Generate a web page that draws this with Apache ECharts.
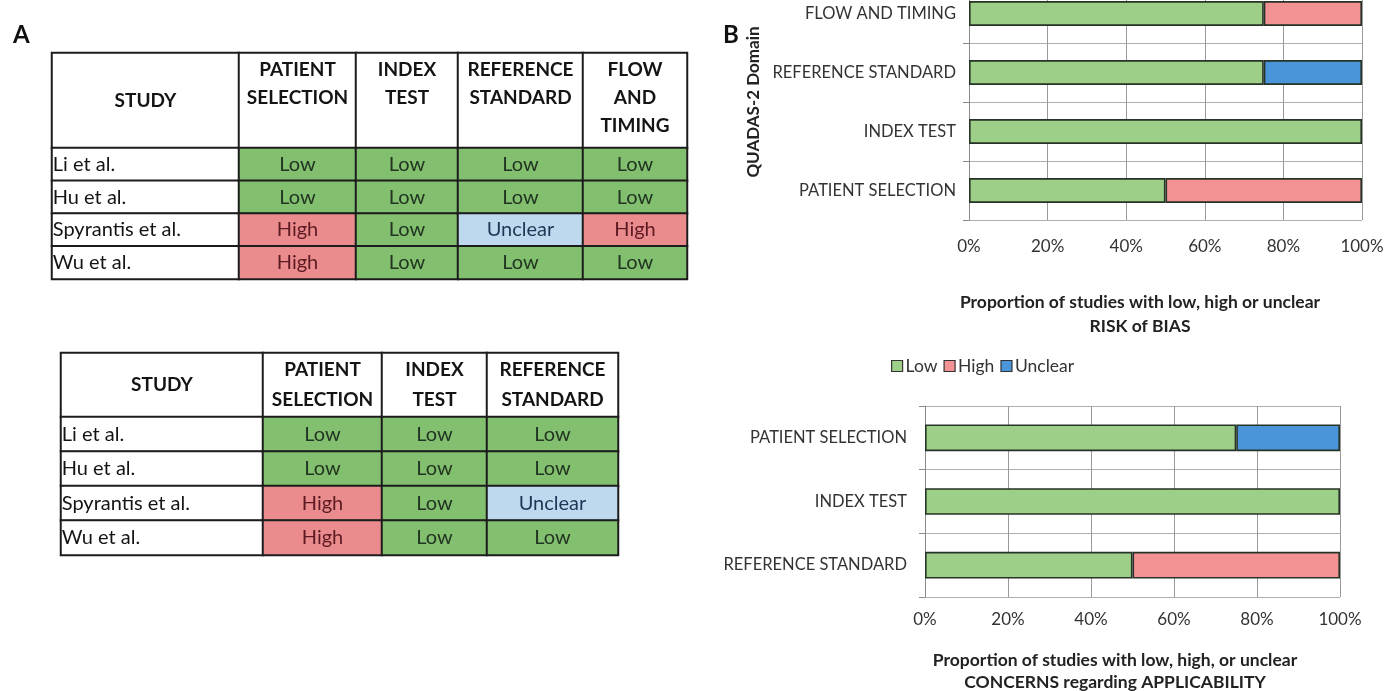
<!DOCTYPE html>
<html>
<head>
<meta charset="utf-8">
<script src="https://cdn.jsdelivr.net/npm/echarts@6/dist/echarts.min.js"></script>
<style>
  html, body { margin: 0; padding: 0; background: #fff; }
  #chart { width: 1398px; height: 691px; }
</style>
</head>
<body>
<div id="chart"></div>
<script>
// ---------- data ----------
const studies = ['Li et al.', 'Hu et al.', 'Spyrantis et al.', 'Wu et al.'];
const levels = ['Low', 'High', 'Unclear'];

// Panel A, upper table: risk of bias judgements (rows = studies)
const biasDomains = ['PATIENT SELECTION', 'INDEX TEST', 'REFERENCE STANDARD', 'FLOW AND TIMING'];
const biasJudgements = [
  ['Low', 'Low', 'Low', 'Low'],
  ['Low', 'Low', 'Low', 'Low'],
  ['High', 'Low', 'Unclear', 'High'],
  ['High', 'Low', 'Low', 'Low']
];

// Panel A, lower table: applicability concerns (rows = studies)
const applDomains = ['PATIENT SELECTION', 'INDEX TEST', 'REFERENCE STANDARD'];
const applJudgements = [
  ['Low', 'Low', 'Low'],
  ['Low', 'Low', 'Low'],
  ['High', 'Low', 'Unclear'],
  ['High', 'Low', 'Low']
];

// Panel B, upper chart: proportion (%) per domain, listed bottom to top
const biasChartDomains = ['PATIENT SELECTION', 'INDEX TEST', 'REFERENCE STANDARD', 'FLOW AND TIMING'];
const biasLow = [50, 100, 75, 75];
const biasHigh = [50, 0, 0, 25];
const biasUnclear = [0, 0, 25, 0];

// Panel B, lower chart: proportion (%) per domain, listed bottom to top
const applChartDomains = ['REFERENCE STANDARD', 'INDEX TEST', 'PATIENT SELECTION'];
const applLow = [50, 100, 75];
const applHigh = [50, 0, 0];
const applUnclear = [0, 0, 25];

const percentTicks = { min: 0, max: 100, step: 20 };

// ---------- styles ----------
const FONT = 'Lato, "Open Sans", sans-serif';
const cellFill = { Low: '#82bf6e', High: '#ea8c8d', Unclear: '#bed8ee' };
const cellInk = { Low: '#223522', High: '#5c1a22', Unclear: '#1f3654' };
const barFill = { Low: '#9dcf89', High: '#f29293', Unclear: '#4a94d9' };
const BAR_EDGE = '#263326';
const CELL_FONT = 20;
const HEAD_FONT = 19;

// table layout: column edges (px) and row bands
const table1 = { edges: [52, 239, 356, 458, 583, 687], top: 53, headerBottom: 148, bottom: 279, headerTop: true };
const table2 = { edges: [61, 263, 382, 487, 618], top: 353, headerBottom: 417, bottom: 555, headerTop: false };

const option = {
  animation: false,
  backgroundColor: '#ffffff',
  textStyle: { fontFamily: FONT },
  title: [],
  grid: [],
  xAxis: [],
  yAxis: [],
  series: [],
  legend: {}
};

function addCellGrid(left, top, width, height, rows) {
  const gi = option.grid.length;
  option.grid.push({ left, top, width, height, show: false, outerBoundsMode: 'none' });
  option.xAxis.push({ type: 'category', gridIndex: gi, data: ['c'], show: false });
  option.yAxis.push({ type: 'category', gridIndex: gi, data: rows, inverse: true, show: false });
  return gi;
}

function heatmapSeries(gi, items, label) {
  return {
    type: 'heatmap',
    xAxisIndex: gi,
    yAxisIndex: gi,
    silent: true,
    emphasis: { disabled: true },
    itemStyle: { borderColor: '#1c1c1c', borderWidth: 2 },
    label: Object.assign({ show: true, fontFamily: FONT }, label),
    data: items
  };
}

function addTable(layout, domains, judgements) {
  const nCols = layout.edges.length - 1;
  const headH = layout.headerBottom - layout.top;
  const bodyH = layout.bottom - layout.headerBottom;
  for (let c = 0; c < nCols; c++) {
    const left = layout.edges[c];
    const width = layout.edges[c + 1] - left;
    const isStudy = c === 0;
    const headText = isStudy ? 'STUDY' : domains[c - 1].split(' ').join('\n');

    // header cell
    const gh = addCellGrid(left, layout.top, width, headH, ['head']);
    option.series.push(heatmapSeries(gh,
      [{ value: [0, 0, 0], itemStyle: { color: '#ffffff' } }],
      {
        formatter: () => headText,
        position: (layout.headerTop && !isStudy) ? 'insideTop' : 'inside',
        distance: 4,
        fontSize: HEAD_FONT,
        fontWeight: 'bold',
        color: '#141414',
        lineHeight: layout.headerTop ? 28 : 30,
        align: 'center'
      }));

    // body cells
    const gb = addCellGrid(left, layout.headerBottom, width, bodyH, studies);
    if (isStudy) {
      option.series.push(heatmapSeries(gb,
        studies.map((s, i) => ({ value: [0, i, 0], itemStyle: { color: '#ffffff' } })),
        {
          formatter: p => studies[p.value[1]],
          position: 'insideLeft',
          distance: 2,
          fontSize: CELL_FONT,
          color: '#141414'
        }));
    } else {
      option.series.push(heatmapSeries(gb,
        studies.map((s, i) => {
          const lvl = judgements[i][c - 1];
          return { value: [0, i, levels.indexOf(lvl)], itemStyle: { color: cellFill[lvl] } };
        }),
        {
          formatter: p => '{l' + p.value[2] + '|' + levels[p.value[2]] + '}',
          fontSize: CELL_FONT,
          rich: {
            l0: { color: cellInk.Low, fontSize: CELL_FONT, fontFamily: FONT },
            l1: { color: cellInk.High, fontSize: CELL_FONT, fontFamily: FONT },
            l2: { color: cellInk.Unclear, fontSize: CELL_FONT, fontFamily: FONT }
          }
        }));
    }
  }
}

addTable(table1, biasDomains, biasJudgements);
addTable(table2, applDomains, applJudgements);

// ---------- stacked proportion charts ----------
function addProportionChart(box, domains, low, high, unclear, stackId, opts) {
  const gi = option.grid.length;
  option.grid.push({
    left: box.left, top: box.top, width: box.width, height: box.height,
    show: false, outerBoundsMode: 'none'
  });
  option.xAxis.push({
    type: 'value', gridIndex: gi,
    min: percentTicks.min, max: percentTicks.max, interval: percentTicks.step,
    axisLine: { show: false }, axisTick: { show: false },
    splitLine: { show: true, lineStyle: { color: '#9a9a9a', width: 1 } },
    axisLabel: { formatter: '{value}%', fontSize: 17, color: '#333', margin: opts.xLabelMargin, fontFamily: FONT }
  });
  option.yAxis.push(Object.assign({
    type: 'category', gridIndex: gi, data: domains,
    axisLine: { show: true, lineStyle: { color: '#8a8a8a', width: 1 } },
    axisTick: { show: true, length: 6, lineStyle: { color: '#8a8a8a' } },
    splitLine: { show: true, lineStyle: { color: '#aeaeae', width: 1 } },
    axisLabel: { fontSize: 16.5, color: '#333', margin: opts.yLabelMargin, fontFamily: FONT }
  }, opts.yExtra || {}));
  const parts = [['Low', low], ['High', high], ['Unclear', unclear]];
  parts.forEach(([name, vals]) => {
    option.series.push({
      name, type: 'bar', stack: stackId,
      xAxisIndex: gi, yAxisIndex: gi,
      barWidth: '42%',
      silent: true,
      itemStyle: { color: barFill[name], borderColor: BAR_EDGE, borderWidth: 1.6 },
      data: vals.map(v => (v === 0 ? '-' : v))
    });
  });
}

addProportionChart({ left: 969, top: -16, width: 393, height: 236 },
  biasChartDomains, biasLow, biasHigh, biasUnclear, 'bias',
  {
    xLabelMargin: 18, yLabelMargin: 13,
    yExtra: {
      name: 'QUADAS-2 Domain', nameLocation: 'middle', nameRotate: 90, nameGap: 207,
      nameTextStyle: { fontSize: 17, fontWeight: 'bold', color: '#222', fontFamily: FONT }
    }
  });

addProportionChart({ left: 925, top: 406, width: 415, height: 191 },
  applChartDomains, applLow, applHigh, applUnclear, 'appl',
  { xLabelMargin: 14, yLabelMargin: 18 });

option.legend = {
  data: levels,
  left: 886, top: 352,
  icon: 'rect', itemWidth: 11, itemHeight: 11, itemGap: 6,
  selectedMode: false,
  itemStyle: { borderColor: '#333', borderWidth: 1.2 },
  textStyle: { fontSize: 17.5, color: '#333', fontFamily: FONT, padding: [0, 0, 0, -2] }
};

option.title = [
  { text: 'A', left: 8, top: 18, textStyle: { fontSize: 24, fontWeight: 'bold', color: '#111', fontFamily: FONT } },
  { text: 'B', left: 718, top: 18, textStyle: { fontSize: 24, fontWeight: 'bold', color: '#111', fontFamily: FONT } },
  {
    text: 'Proportion of studies with low, high or unclear\nRISK of BIAS',
    left: 1135, top: 285, textAlign: 'center',
    textStyle: { fontSize: 17.5, fontWeight: 'bold', color: '#222', lineHeight: 24, fontFamily: FONT }
  },
  {
    text: 'Proportion of studies with low, high, or unclear\nCONCERNS regarding APPLICABILITY',
    left: 1110, top: 644, textAlign: 'center',
    textStyle: { fontSize: 17.5, fontWeight: 'bold', color: '#222', lineHeight: 22, fontFamily: FONT }
  }
];

const chart = echarts.init(document.getElementById('chart'), null, { renderer: 'canvas' });
chart.setOption(option);
</script>
</body>
</html>
